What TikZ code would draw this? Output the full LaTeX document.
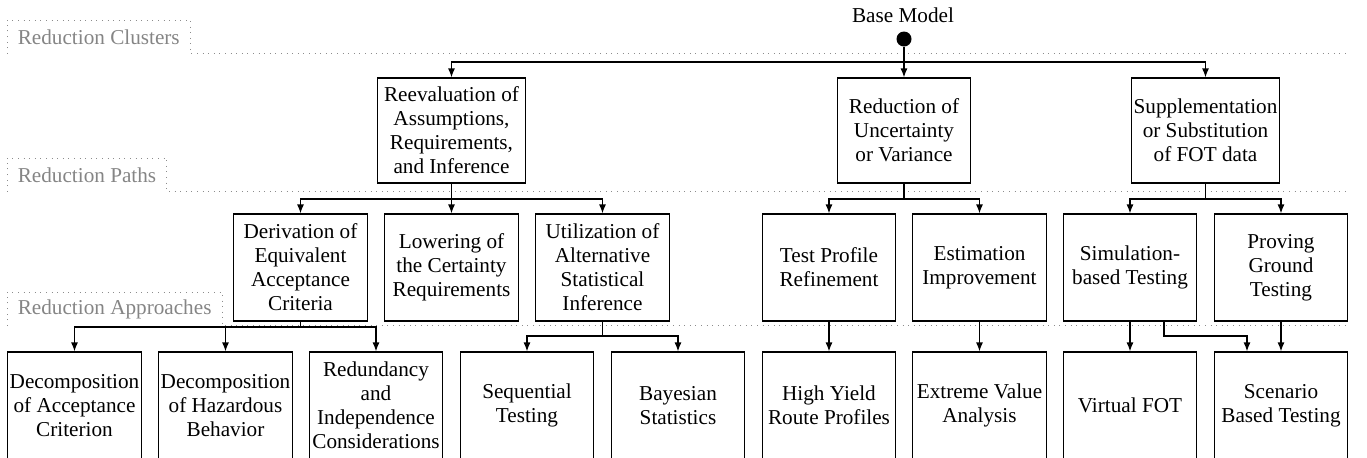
\documentclass[tikz,border=0pt]{standalone}
\usepackage{fontspec}
\setmainfont{Liberation Serif}
\usetikzlibrary{arrows.meta,calc}
\begin{document}
\begin{tikzpicture}[x=0.5pt,y=-0.5pt,
 every node/.style={font=\fontsize{10.6pt}{12pt}\selectfont},
 box/.style={draw, line width=0.6pt, align=center, inner xsep=1pt, inner ysep=1pt, minimum width=66.8pt, minimum height=53.5pt},
 boxw/.style={box, minimum width=74.2pt, minimum height=52.5pt},
 boxn/.style={box, minimum height=52.5pt},
 arr/.style={line width=0.6pt, -{Latex[length=4.5pt,width=3.5pt]}},
 ln/.style={line width=0.6pt},
 lbl/.style={text=black!48, inner xsep=5.2pt, inner ysep=0pt, minimum height=16.5pt, anchor=north west},
 dotl/.style={black!45, line width=0.5pt, dash pattern=on 0.5pt off 2.3pt}]
\clip (0,0) rectangle (1367,457);

% layer labels
\node[lbl] (lc) at (7,20) {Reduction Clusters};
\node[lbl] (lp) at (7,158) {Reduction Paths};
\node[lbl] (la) at (7,292) {Reduction Approaches};
\coordinate (rend) at (1349,0);
\draw[dotl] (lc.south west) -- (lc.north west) -- (lc.north east) -- (lc.south east) -- (lc.south east -| rend);
\draw[dotl] (lp.south west) -- (lp.north west) -- (lp.north east) -- (lp.south east) -- (lp.south east -| rend);
\draw[dotl] (la.south west) -- (la.north west) -- (la.north east) -- (la.south east) -- (la.south east -| rend);

% root
\node (bmt) at (903,15) {Base Model};
\node[circle, fill, inner sep=0pt, minimum size=7.5pt] (base) at (904,39) {};

% level 1
\node[boxw] (reeval) at (451.5,130.5) {Reevaluation of\\Assumptions,\\Requirements,\\and Inference};
\node[boxn] (reduc) at (904,130.5) {Reduction of\\Uncertainty\\or Variance};
\node[boxw] (suppl) at (1205.5,130.5) {Supplementation\\or Substitution\\of FOT data};

% level 2
\node[box] (deriv) at (300.5,267.5) {Derivation of\\Equivalent\\Acceptance\\Criteria};
\node[box] (lower) at (451.5,267.5) {Lowering of\\the Certainty\\Requirements};
\node[box] (util) at (602.5,267.5) {Utilization of\\Alternative\\Statistical\\Inference};
\node[box] (tpr) at (829,267.5) {Test Profile\\Refinement};
\node[box] (est) at (979.5,267.5) {Estimation\\Improvement};
\node[box] (sim) at (1130,267.5) {Simulation-\\based Testing};
\node[box] (prov) at (1281,267.5) {Proving\\Ground\\Testing};

% level 3
\node[box] (dec1) at (74.5,405.5) {Decomposition\\of Acceptance\\Criterion};
\node[box] (dec2) at (225.5,405.5) {Decomposition\\of Hazardous\\Behavior};
\node[box] (red) at (376,405.5) {Redundancy\\and\\Independence\\Considerations};
\node[box] (seq) at (527,405.5) {Sequential\\Testing};
\node[box] (bay) at (678,405.5) {Bayesian\\Statistics};
\node[box] (hy) at (829,405.5) {High Yield\\Route Profiles};
\node[box] (evt) at (979.5,405.5) {Extreme Value\\Analysis};
\node[box] (vf) at (1130,405.5) {Virtual FOT};
\node[box] (sbt) at (1281,405.5) {Scenario\\Based Testing};

% junctions
\coordinate (j0) at (904,62);
\coordinate (j1) at (451.5,199);
\coordinate (j2) at (904,199);
\coordinate (j3) at (1205.5,199);
\coordinate (j4) at (300.5,327);
\coordinate (j5) at (602.5,336);
\coordinate (s1) at (1164,336);
\coordinate (s2) at (1247,336);

% connectors
\draw[arr] (base) -- (reduc);
\draw[arr] (j0) -| (reeval);
\draw[arr] (j0) -| (suppl);

\draw[arr] (reeval) -- (lower);
\draw[arr] (j1) -| (deriv);
\draw[arr] (j1) -| (util);

\draw[ln] (reduc) -- (j2);
\draw[arr] (j2) -| (tpr);
\draw[arr] (j2) -| (est);

\draw[ln] (suppl) -- (j3);
\draw[arr] (j3) -| (sim);
\draw[arr] (j3) -| (prov);

\draw[ln] (deriv) -- (j4);
\draw[arr] (j4) -| (dec1);
\draw[arr] (j4) -| (dec2);
\draw[arr] (j4) -| (red);

\draw[ln] (util) -- (j5);
\draw[arr] (j5) -| (seq);
\draw[arr] (j5) -| (bay);

\draw[arr] (tpr) -- (hy);
\draw[arr] (est) -- (evt);
\draw[arr] (sim) -- (vf);
\draw[arr] (prov) -- (sbt);
\draw[arr] (sim.south -| s1) -- (s1) -- (s2) -- (s2 |- sbt.north);
\end{tikzpicture}
\end{document}
